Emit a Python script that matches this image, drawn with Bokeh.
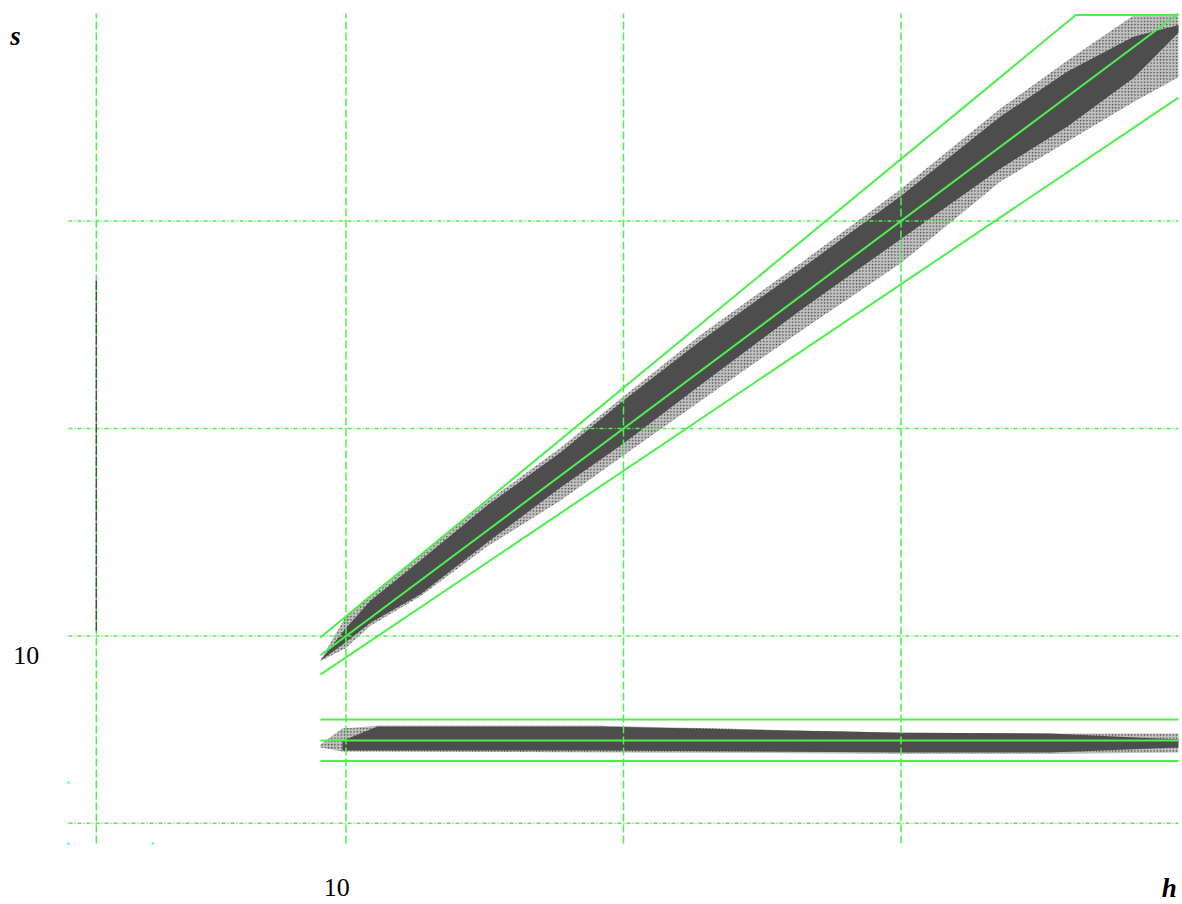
from bokeh.plotting import figure
from bokeh.models import Label
from bokeh.embed import file_html
from bokeh.resources import INLINE

# ---------------- data ----------------
# visible canvas ranges (log axes); the plotted box is 5..80 on both axes
h_view = (4.219, 80.81)
s_view = (4.079, 83.55)
box_lo, box_hi = 5.0, 80.0
grid_h = [5.36, 10, 20, 40]
grid_s = [5.35, 10, 20, 40]

# upper (diagonal) band: dense core
up_core_h = [9.38, 10.0, 10.63, 12.05, 14.24, 17.09, 20.0, 24.24, 31.12, 40.0, 51.29, 60.63, 71.5, 80.0]
up_core_top = [9.21, 10.27, 11.25, 12.88, 15.48, 18.46, 21.96, 26.79, 34.06, 43.48, 56.70, 65.91, 74.0, 77.0]
up_core_bot = [9.21, 9.80, 10.45, 11.50, 13.68, 16.42, 19.02, 23.13, 29.70, 37.67, 47.66, 54.86, 64.5, 75.0]
# upper band: sparse fringe
up_fr_h = [9.38, 10.0, 10.63, 12.05, 14.24, 17.09, 20.0, 24.24, 31.12, 40.0, 51.29, 60.63, 71.5, 80.0]
up_fr_top = [9.22, 10.69, 11.48, 13.14, 15.69, 18.76, 22.26, 27.34, 34.75, 44.51, 58.23, 68.38, 79.5, 79.5]
up_fr_bot = [9.19, 9.61, 10.35, 11.42, 13.50, 15.72, 18.28, 21.93, 27.69, 34.76, 45.63, 52.16, 59.51, 64.63]

# lower (flat) band
lo_core_h = [9.91, 10.82, 12.98, 18.88, 40.0, 58.11, 80.0]
lo_core_top = [7.05, 7.39, 7.39, 7.39, 7.24, 7.22, 7.08]
lo_core_bot = [6.82, 6.82, 6.82, 6.82, 6.78, 6.78, 6.89]
lo_fr_h = [9.38, 9.91, 10.82, 18.88, 40.0, 58.11, 80.0]
lo_fr_top = [6.96, 7.34, 7.41, 7.41, 7.24, 7.22, 7.22]
lo_fr_bot = [6.89, 6.80, 6.80, 6.78, 6.75, 6.75, 6.78]

# green reference lines
mid_h = [9.38, 80.0]
mid_s = [9.38, 80.0]
hi_h = [9.38, 61.9, 80.0]
hi_s = [9.95, 79.6, 79.6]
low_h = [9.38, 80.0]
low_s = [8.79, 60.4]
flat_h = [9.38, 80.0]
flat_levels = [7.566, 7.053, 6.587]

# thin strand of points at the left
strand_h = [5.36, 5.36]
strand_s = [10.18, 32.8]

# small cyan marks on the box edge
cyan_h = [5.0, 5.0, 6.17]
cyan_s = [6.13, 5.0, 5.0]

# text labels and their positions (data units)
x_tick_label, x_tick_pos = "10", (9.77, 4.317)
y_tick_label, y_tick_pos = "10", (4.50, 9.37)
x_name, x_name_pos = "h", (78.2, 4.093)
y_name, y_name_pos = "s", (4.38, 74.3)

# ---------------- styling ----------------
GREEN = "#4cf04c"
DARK = "#4d4d4d"
SERIF = "Liberation Serif"

p = figure(
    width=1182, height=904,
    x_axis_type="log", y_axis_type="log",
    x_range=h_view, y_range=s_view,
    x_axis_location=None, y_axis_location=None,
    toolbar_location=None, output_backend="svg",
    min_border=0,
)
p.outline_line_color = None
p.grid.visible = False
p.background_fill_color = "white"
p.border_fill_color = "white"

# upper band fringe (speckled) and core
p.patch(up_fr_h + up_fr_h[::-1], up_fr_top + up_fr_bot[::-1],
        fill_color=DARK, fill_alpha=0.35, line_color=None,
        hatch_pattern="dot", hatch_color=DARK, hatch_scale=3.2, hatch_weight=2.0)
p.patch(up_core_h + up_core_h[::-1], up_core_top + up_core_bot[::-1],
        fill_color=DARK, line_color=None)

# lower band fringe and core
p.patch(lo_fr_h + lo_fr_h[::-1], lo_fr_top + lo_fr_bot[::-1],
        fill_color=DARK, fill_alpha=0.35, line_color=None,
        hatch_pattern="dot", hatch_color=DARK, hatch_scale=3.2, hatch_weight=2.0)
p.patch(lo_core_h + lo_core_h[::-1], lo_core_top + lo_core_bot[::-1],
        fill_color=DARK, line_color=None)

# grid lines inside the box
n_h, n_s = len(grid_h), len(grid_s)
p.segment(x0=grid_h, y0=[box_lo] * n_h, x1=grid_h, y1=[box_hi] * n_h,
          line_color=GREEN, line_width=1.5, line_dash="8 3")
p.segment(x0=[box_lo] * n_s, y0=grid_s, x1=[box_hi] * n_s, y1=grid_s,
          line_color=GREEN, line_width=1.5, line_dash="4 2 1 2")

# thin strand (drawn over the grid line it sits on)
p.line(strand_h, strand_s, line_color=DARK, line_width=1.5, line_dash="9 2")

# green reference lines
p.line(mid_h, mid_s, line_color=GREEN, line_width=2)
p.line(hi_h, hi_s, line_color=GREEN, line_width=2)
p.line(low_h, low_s, line_color=GREEN, line_width=2)
for lev in flat_levels:
    p.line(flat_h, [lev, lev], line_color=GREEN, line_width=2)

p.scatter(cyan_h, cyan_s, marker="square", size=2, color="#00ffff", line_color=None)

# labels
for txt, pos, style, size, base in [
    (x_tick_label, x_tick_pos, "normal", "26px", "middle"),
    (y_tick_label, y_tick_pos, "normal", "26px", "middle"),
    (x_name, x_name_pos, "bold italic", "27px", "bottom"),
    (y_name, y_name_pos, "bold italic", "27px", "middle"),
]:
    p.add_layout(Label(x=pos[0], y=pos[1], text=txt, text_font=SERIF,
                       text_font_style=style, text_font_size=size,
                       text_color="black",
                       text_align="center", text_baseline=base))

open("out.html", "w").write(file_html(p, INLINE))
